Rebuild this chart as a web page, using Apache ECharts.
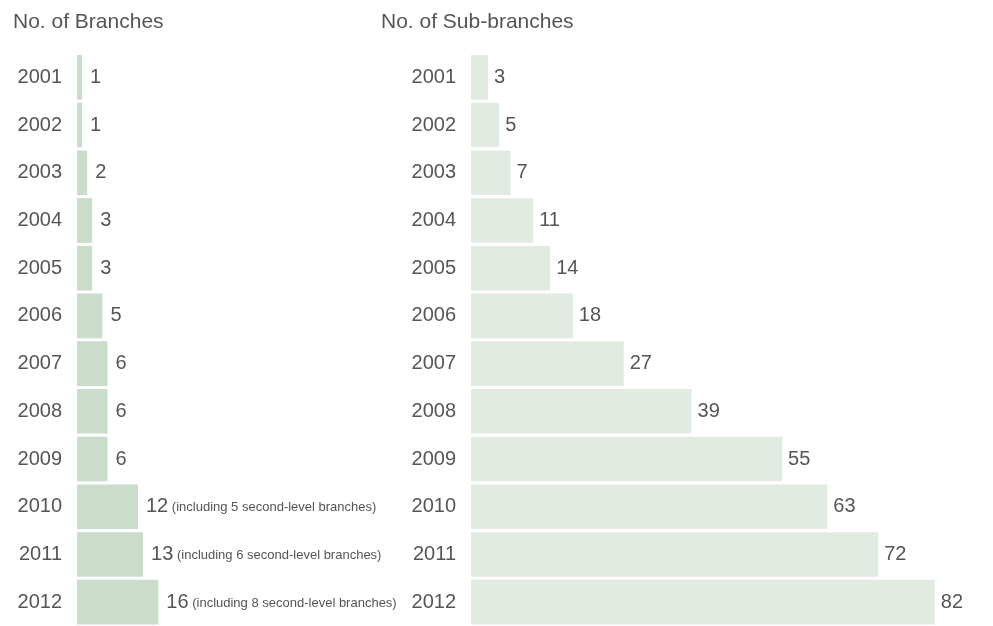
<!DOCTYPE html>
<html><head><meta charset="utf-8">
<script src="https://cdn.jsdelivr.net/npm/echarts@6/dist/echarts.min.js"></script>
<style>html,body{margin:0;padding:0;background:#fff}#c{width:993px;height:626px}</style>
</head><body><div id="c"></div>
<script>
const years = ['2001','2002','2003','2004','2005','2006','2007','2008','2009','2010','2011','2012'];
const branches = [1,1,2,3,3,5,6,6,6,12,13,16];
const branchNotes = ['','','','','','','','','','(including 5 second-level branches)','(including 6 second-level branches)','(including 8 second-level branches)'];
const subBranches = [3,5,7,11,14,18,27,39,55,63,72,82];
const titles = ['No. of Branches','No. of Sub-branches'];

const txt = '#555555';
const font = 'Liberation Sans, Arial, sans-serif';
const chart = echarts.init(document.getElementById('c'));
const gridTop = 53.5, gridH = 578;
chart.setOption({
  animation:false,
  title:[
    {text:titles[0], left:13, top:12, padding:0, textStyle:{fontFamily:font,fontSize:21,fontWeight:'normal',color:txt}},
    {text:titles[1], left:381, top:12, padding:0, textStyle:{fontFamily:font,fontSize:21,fontWeight:'normal',color:txt}}
  ],
  grid:[
    {left:77, top:gridTop, width:305, height:gridH},
    {left:471, top:gridTop, width:509, height:gridH}
  ],
  xAxis:[
    {gridIndex:0,type:'value',min:0,max:60,show:false},
    {gridIndex:1,type:'value',min:0,max:90,show:false}
  ],
  yAxis:[0,1].map(i=>({gridIndex:i,type:'category',data:years,inverse:true,
    axisLine:{show:false},axisTick:{show:false},splitLine:{show:false},
    axisLabel:{margin:15,fontFamily:font,fontSize:20,color:txt}})),
  series:[
    {type:'bar',xAxisIndex:0,yAxisIndex:0,barCategoryGap:'6.5%',
     data:branches,
     itemStyle:{color:'#c9ddca'},
     label:{show:true,position:'right',distance:8,fontFamily:font,fontSize:20,color:txt,
       formatter:p=>{const n=branchNotes[p.dataIndex];return n?'{a|'+p.value+'}{b| '+n+'}':'{a|'+p.value+'}';},
       rich:{a:{fontFamily:font,fontSize:20,color:txt},b:{fontFamily:'Liberation Sans Narrow, Arial Narrow, sans-serif',fontSize:13,color:txt,padding:[2,0,0,0]}}}
    },
    {type:'bar',xAxisIndex:1,yAxisIndex:1,barCategoryGap:'6.5%',data:subBranches,
     itemStyle:{color:'#e1ebe2'},
     label:{show:true,position:'right',distance:6,fontFamily:font,fontSize:20,color:txt}}
  ]
});
</script></body></html>
